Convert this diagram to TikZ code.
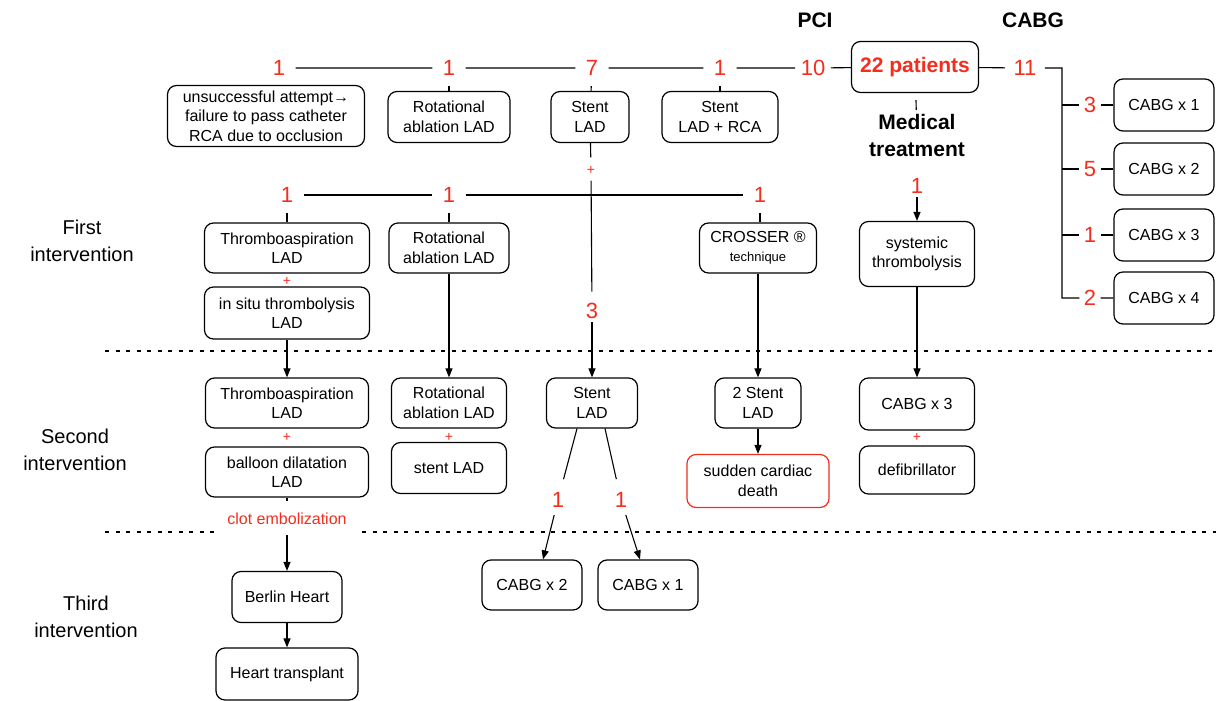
\documentclass[tikz,border=0pt]{standalone}
\usepackage{fontspec}
\setmainfont{Liberation Sans}
\usetikzlibrary{arrows.meta}
\definecolor{numred}{RGB}{245,45,30}

\begin{document}
\begin{tikzpicture}[
    x=1pt, y=-1pt,
    line width=1.1pt,
    >={Triangle[length=9pt,width=7pt]},
    box/.style={draw, rounded corners=9pt, align=center, line width=1.2pt,
      font=\fontsize{16}{19.5}\selectfont, inner sep=2pt, minimum height=51pt},
    num/.style={text=numred, font=\fontsize{22}{22}\selectfont, inner xsep=10pt, inner ysep=3pt},
    plus/.style={text=numred, font=\fontsize{14}{14}\selectfont, inner sep=1pt},
    lbl/.style={align=center, font=\fontsize{20}{27}\selectfont},
    head/.style={align=center, font=\bfseries\fontsize{21}{27}\selectfont},
    sep/.style={line width=2.6pt, dash pattern=on 4pt off 6.5pt},
    tick/.style={shorten <=7pt},
  ]
  \useasboundingbox (0,0) rectangle (1216,701);

  % headings
  \node[head] (pci) at (815,20) {PCI};
  \node[head] (cabg) at (1033,20) {CABG};

  % top row
  \node[num] (t1) at (279,68) {1};
  \node[num] (t2) at (449,68) {1};
  \node[num] (t7) at (592,68) {7};
  \node[num] (t4) at (720,68) {1};
  \node[num, inner xsep=5pt] (n10) at (813,68) {10};
  \node[box, text=numred, font=\bfseries\fontsize{21}{24}\selectfont,
    minimum width=127pt, minimum height=51pt] (pat) at (915,67) {22 patients};
  \node[num, inner xsep=8pt] (n11) at (1025,68) {11};
  \coordinate (cc) at (1062,68);

  \node[box, minimum width=197pt, minimum height=61pt] (fail) at (266,116)
    {unsuccessful attempt→\\failure to pass catheter\\RCA due to occlusion};
  \node[box, minimum width=122pt] (rot1) at (449,117) {Rotational\\ablation LAD};
  \node[box, minimum width=78pt] (stA) at (590,117) {Stent\\LAD};
  \node[box, minimum width=116pt] (stB) at (720,117) {Stent\\LAD + RCA};
  \node[plus] (pA) at (591,170) {+};

  \node[head] (med) at (917,135) {Medical\\treatment};
  \node[num] (m1) at (917,186) {1};
  \node[box, minimum width=115pt, minimum height=65pt] (sys) at (917,254) {systemic\\thrombolysis};

  % CABG branch
  \coordinate (k1) at (1062,105);
  \coordinate (k2) at (1062,169);
  \coordinate (k3) at (1062,235);
  \coordinate (k4) at (1062,298);
  \node[num, inner xsep=4pt] (r1) at (1090,105) {3};
  \node[num, inner xsep=4pt] (r2) at (1090,169) {5};
  \node[num, inner xsep=4pt] (r3) at (1090,235) {1};
  \node[num, inner xsep=4pt] (r4) at (1090,298) {2};
  \node[box, minimum width=100pt, minimum height=52pt] (cb1) at (1164,105) {CABG x 1};
  \node[box, minimum width=100pt, minimum height=52pt] (cb2) at (1164,169) {CABG x 2};
  \node[box, minimum width=100pt, minimum height=52pt] (cb3) at (1164,235) {CABG x 3};
  \node[box, minimum width=100pt, minimum height=52pt] (cb4) at (1164,298) {CABG x 4};

  % first intervention
  \node[lbl] (lab1) at (82,241) {First\\intervention};
  \node[num] (f1) at (287,195) {1};
  \node[num] (f2) at (449,195) {1};
  \node[num] (f3) at (760,195) {1};
  \node[box, minimum width=165pt, minimum height=50pt] (ta1) at (287,248) {Thromboaspiration\\LAD};
  \node[plus] (pB) at (287,281) {+};
  \node[box, minimum width=165pt, minimum height=52pt] (ins) at (287,313) {in situ thrombolysis\\LAD};
  \node[box, minimum width=120pt, minimum height=50pt] (rot2) at (449,248) {Rotational\\ablation LAD};
  \node[box, minimum width=117pt, minimum height=50pt] (cro) at (758,248)
    {CROSSER ®\\{\fontsize{13}{16}\selectfont technique}};
  \node[num] (n3) at (592,311) {3};

  % second intervention
  \node[lbl] (lab2) at (75,450) {Second\\intervention};
  \node[box, minimum width=163pt, minimum height=50pt] (ta2) at (287,403) {Thromboaspiration\\LAD};
  \node[plus] (pC) at (287,437) {+};
  \node[box, minimum width=163pt, minimum height=50pt] (bal) at (287,472) {balloon dilatation\\LAD};
  \node[box, minimum width=115pt, minimum height=50pt] (rot3) at (449,403) {Rotational\\ablation LAD};
  \node[plus] (pD) at (449,437) {+};
  \node[box, minimum width=115pt, minimum height=51pt] (sl) at (449,468) {stent LAD};
  \node[box, minimum width=91pt, minimum height=50pt] (st3) at (592,403) {Stent\\LAD};
  \node[box, minimum width=86pt, minimum height=50pt] (ts) at (758,403) {2 Stent\\LAD};
  \node[box, draw=numred, minimum width=142pt, minimum height=53pt] (scd) at (758,481) {sudden cardiac\\death};
  \node[box, minimum width=115pt, minimum height=52pt] (cx3) at (917,404) {CABG x 3};
  \node[plus] (pE) at (917,437) {+};
  \node[box, minimum width=115pt, minimum height=48pt] (def) at (917,470) {defibrillator};
  \node[num] (b1) at (558,500) {1};
  \node[num] (b2) at (621,500) {1};
  \node[text=numred, font=\fontsize{16}{18}\selectfont] (clot) at (287,519) {clot embolization};

  % third intervention
  \node[lbl] (lab3) at (86,617) {Third\\intervention};
  \node[box, minimum width=110pt, minimum height=51pt] (bh) at (287,597) {Berlin Heart};
  \node[box, minimum width=142pt, minimum height=52pt] (ht) at (287,674) {Heart transplant};
  \node[box, minimum width=100pt, minimum height=50pt] (cx2) at (532,585) {CABG x 2};
  \node[box, minimum width=100pt, minimum height=50pt] (cx1) at (648,585) {CABG x 1};

  % separators
  \draw[sep] (105,351) -- (1216,351);
  \draw[sep] (105,532) -- (214,532);
  \draw[sep] (362,532) -- (1216,532);

  % connectors
  \draw (t1) -- (t2) -- (t7) -- (t4) -- (n10) -- (pat) -- (n11) -- (cc) -- (k4) -- (r4) -- (cb4);
  \draw (k1) -- (r1) -- (cb1);
  \draw (k2) -- (r2) -- (cb2);
  \draw (k3) -- (r3) -- (cb3);
  \draw[tick] (t2) -- (rot1);
  \draw[tick] (t7) -- (stA);
  \draw[tick] (t4) -- (stB);
  \draw[tick] (pA) -- (stA);
  \draw[tick] (pat) -- (med);
  \draw[shorten <=5pt, shorten >=8pt] (pA) -- (n3);
  \draw (f1) -- (f2) -- (f3);
  \draw[tick] (f1) -- (ta1);
  \draw[tick] (f2) -- (rot2);
  \draw[tick] (f3) -- (f3 |- cro.north);
  \draw[->] (m1) -- (sys);
  \draw[->] (ins) -- (ta2);
  \draw[->] (rot2) -- (rot3);
  \draw[->] (n3) -- (st3);
  \draw[->] (cro) -- (ts);
  \draw[->] (sys) -- (cx3);
  \draw[->] (ts) -- (scd);
  \draw[shorten >=10pt] ([xshift=-15pt]st3.south) -- (b1);
  \draw[shorten >=10pt] ([xshift=13pt]st3.south) -- (b2);
  \draw[->, shorten <=4pt] (b1) -- ([xshift=11pt]cx2.north);
  \draw[->, shorten <=4pt] (b2) -- ([xshift=-8pt]cx1.north);
  \draw[shorten >=8pt] (bal) -- (clot);
  \draw[->, shorten <=6pt] (clot) -- (bh);
  \draw[->] (bh) -- (ht);
\end{tikzpicture}
\end{document}
